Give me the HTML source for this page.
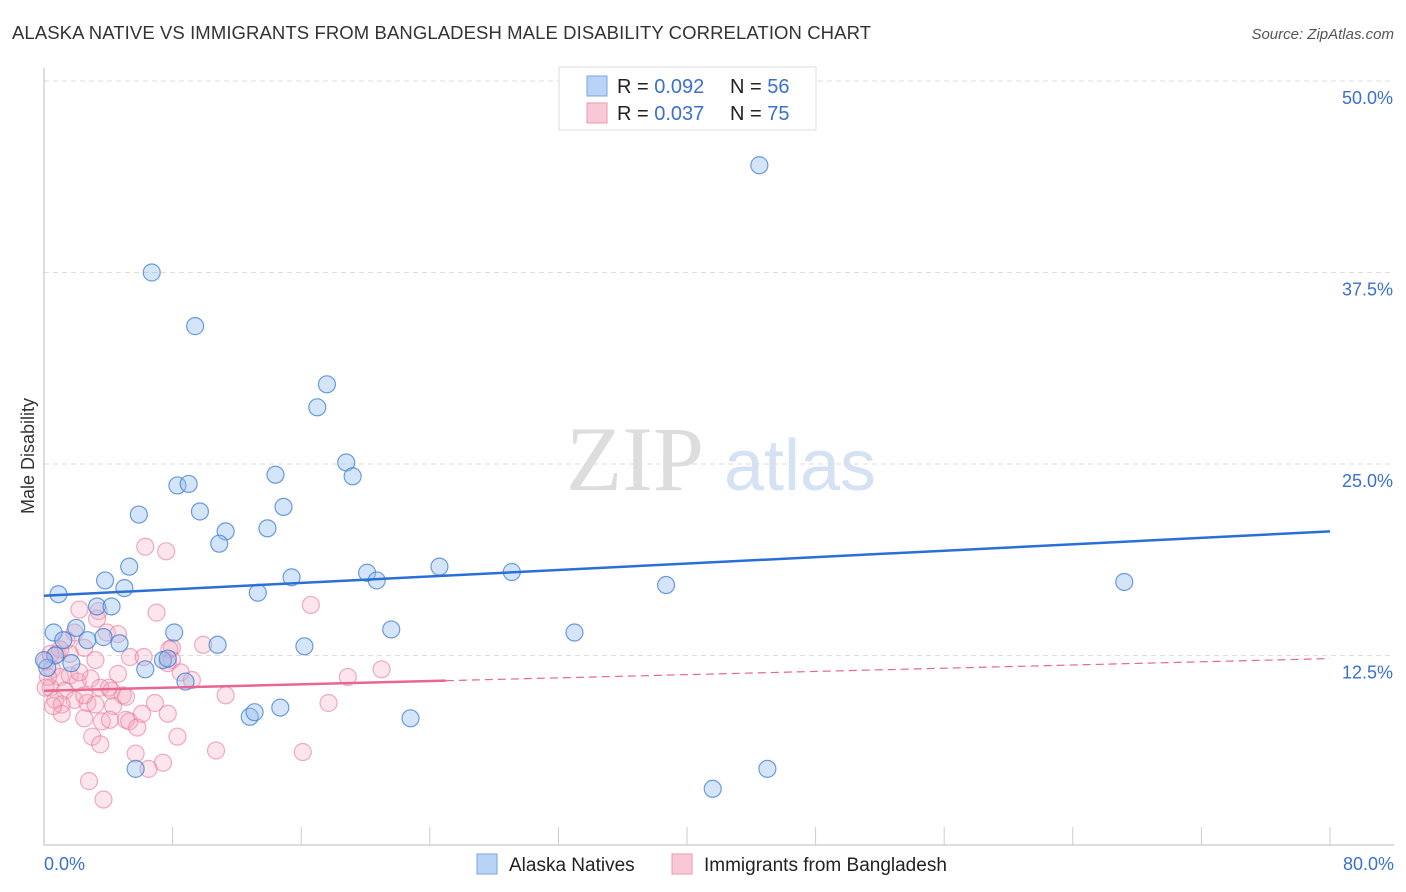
<!DOCTYPE html>
<html><head><meta charset="utf-8"><style>
body{margin:0;background:#fff;font-family:"Liberation Sans",sans-serif;}
svg{display:block}
</style></head><body>
<svg id="chart" width="1406" height="892">
<text x="12" y="39" font-size="18.5" fill="#333" textLength="859">ALASKA NATIVE VS IMMIGRANTS FROM BANGLADESH MALE DISABILITY CORRELATION CHART</text>
<text x="1394" y="39" font-size="15" fill="#555" text-anchor="end" font-style="italic">Source: ZipAtlas.com</text>
<text x="635" y="490" font-size="92" fill="#ddd" font-family="Liberation Serif,serif" text-anchor="middle">ZIP</text>
<text x="800" y="490" font-size="72" fill="#d5e2f3" text-anchor="middle">atlas</text>
<text x="34" y="456" font-size="18" fill="#333" text-anchor="middle" transform="rotate(-90 34 456)">Male Disability</text>
<g id="grid"></g><g id="axes"></g><g id="pts"></g><g id="lines"></g>
<g>
<rect x="559" y="67" width="257" height="63" fill="#fff" stroke="#ddd"/>
<rect x="587" y="76" width="20" height="20" fill="#b8d3f5" stroke="#7aa7e0"/>
<rect x="587" y="103" width="20" height="20" fill="#f9c8d7" stroke="#ee97b2"/>
<text x="617" y="93" font-size="20" fill="#222">R = <tspan fill="#3a70d0">0.092</tspan></text>
<text x="730" y="93" font-size="20" fill="#222">N = <tspan fill="#3a70d0">56</tspan></text>
<text x="617" y="120" font-size="20" fill="#222">R = <tspan fill="#3a70d0">0.037</tspan></text>
<text x="730" y="120" font-size="20" fill="#222">N = <tspan fill="#3a70d0">75</tspan></text>
</g>
<text x="44" y="870" font-size="18" fill="#3a70d0">0.0%</text>
<text x="1394" y="870" font-size="18" fill="#3a70d0" text-anchor="end">80.0%</text>
<g>
<rect x="477" y="854" width="20" height="20" fill="#b8d3f5" stroke="#7aa7e0"/>
<text x="509" y="871" font-size="19" fill="#222">Alaska Natives</text>
<rect x="672" y="854" width="20" height="20" fill="#f9c8d7" stroke="#ee97b2"/>
<text x="704" y="871" font-size="19" fill="#222">Immigrants from Bangladesh</text>
</g>
</svg>
<script>
const yTicks=[12.5,25,37.5,50];
const blueX=[6.7,9.4,44.5,17.6,17,18.8,19.2,14.4,8.3,9,5.9,9.7,11.3,14.9,13.9,10.9,5.3,3.8,20.1,15.4,20.7,24.6,29.1,38.7,67.2,0.9,5,13.3,3.3,4.2,0.6,8.1,21.6,33,2,2.7,1.2,3.7,4.7,10.8,16.2,1.7,6.3,7.4,7.7,8.8,12.8,13.1,14.7,22.8,5.7,41.6,45,0.7,0.2,0];
const blueY=[37.5,34,44.5,30.2,28.7,25.1,24.2,24.3,23.6,23.7,21.7,21.9,20.6,22.2,20.8,19.8,18.3,17.4,17.9,17.6,17.4,18.3,17.95,17.1,17.3,16.5,16.9,16.6,15.7,15.7,14,14,14.2,14,14.3,13.5,13.5,13.7,13.3,13.2,13.1,12,11.6,12.2,12.3,10.8,8.5,8.8,9.1,8.4,5.1,3.8,5.1,12.5,11.7,12.2];
const pinkX=[6.3,7.6,7,16.6,2.2,3.4,3.3,3.9,4.6,1.9,2.5,0.8,3.2,0.1,0.5,1,1.6,2.1,2.9,0.4,1.3,3.5,4.2,4.9,4.04,1.9,0.7,1.1,2.7,3.2,4.3,6.9,1.1,2.5,3.6,5.1,5.3,5.8,6.1,7.7,3,3.5,5.7,8.3,10.7,16.1,7.4,6.5,2.8,3.7,7.96,7.96,7.8,8.5,9.2,11.3,9.9,17.7,18.9,21,0.25,0.1,1.6,5.35,1.4,2.2,4.6,7.7,6.2,1,0.4,0.56,5.1,2.5,4.1];
const pinkY=[19.6,19.3,15.3,15.8,15.5,15.4,14.9,14,13.9,14,13,12.6,12.2,12.1,11.6,11.1,11.2,10.8,11,10.4,10.2,10.4,10.2,9.9,10.4,9.6,9.6,9.3,9.4,9.3,9.2,9.4,8.7,8.4,8.2,8.3,8.2,7.8,8.7,8.7,7.2,6.7,6.1,7.2,6.3,6.2,5.5,5.1,4.3,3.1,13.0,12.2,12.9,11.4,10.9,9.9,13.2,9.4,11.1,11.6,11.1,10.4,12.6,12.4,13.5,11.4,11.3,12,12.4,12.9,12.6,9.2,9.8,9.9,8.3];
const blueTrend=[16.4,20.6], pinkTrend=[10.2,12.3], pinkSolidEnd=25;
const X=v=>44+v/80*1286, Y=v=>847-v*15.32;
const NS='http://www.w3.org/2000/svg';
function mk(t,a,p){const e=document.createElementNS(NS,t);for(const k in a)e.setAttribute(k,a[k]);document.getElementById(p).appendChild(e);return e;}
yTicks.forEach(t=>{
 const g=mk('line',{x1:44,x2:1394,y1:Y(t),y2:Y(t),stroke:'#ddd','stroke-dasharray':'5,4'},'grid');
 
 
 const tx=mk('text',{x:1393,y:Y(t)+23,'font-size':18,fill:'#3a70d0','text-anchor':'end'},'grid');
 tx.textContent=t.toFixed(1)+'%';
 
 
});
const ax=mk('line',{x1:44,x2:44,y1:68,y2:845,stroke:'#bbb'},'axes');


const bx=mk('line',{x1:44,x2:1394,y1:845,y2:845,stroke:'#bbb'},'axes');


for(let i=1;i<=10;i++){const t=mk('line',{x1:X(i*8),x2:X(i*8),y1:827,y2:845,stroke:'#ccc'},'axes');
 
 }
pinkX.forEach((x,i)=>{const c=mk('circle',{cx:X(x),cy:Y(pinkY[i]),r:8.5,fill:'rgba(246,170,192,0.3)',stroke:'rgba(232,120,155,0.6)','stroke-width':1.2},'pts');
 
 });
blueX.forEach((x,i)=>{const c=mk('circle',{cx:X(x),cy:Y(blueY[i]),r:8.5,fill:'rgba(150,190,240,0.4)',stroke:'rgba(60,125,210,0.75)','stroke-width':1.2},'pts');
 
 });
const bl=mk('line',{x1:X(0),x2:X(80),y1:Y(blueTrend[0]),y2:Y(blueTrend[1]),stroke:'#2a6fd6','stroke-width':2.5},'lines');


const pm=pinkTrend[0]+(pinkTrend[1]-pinkTrend[0])*pinkSolidEnd/80;
const pl=mk('line',{x1:X(0),x2:X(pinkSolidEnd),y1:Y(pinkTrend[0]),y2:Y(pm),stroke:'#e8668f','stroke-width':2.5},'lines');


const pd=mk('line',{x1:X(pinkSolidEnd),x2:X(80),y1:Y(pm),y2:Y(pinkTrend[1]),stroke:'#e8668f','stroke-width':1.2,'stroke-dasharray':'8,5'},'lines');


</script>
</body></html>
